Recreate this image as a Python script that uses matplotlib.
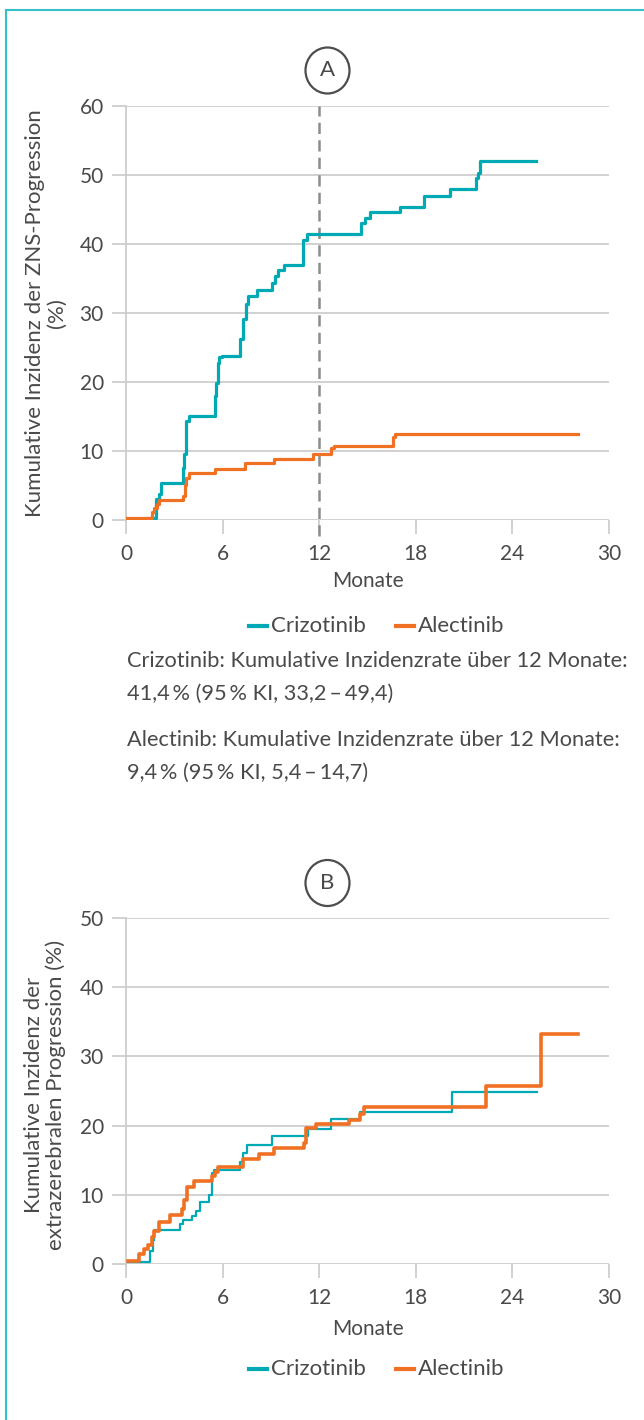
import matplotlib
matplotlib.use('Agg')
import matplotlib.pyplot as plt
from matplotlib.lines import Line2D
from matplotlib.patches import Ellipse

plt.rcParams['font.family'] = ['Lato', 'DejaVu Sans']

# Panel A: ZNS-Progression
a_criz_t = [1.31, 1.89, 2.03, 2.18, 3.55, 3.63, 3.71, 3.9, 5.5, 5.6, 5.7, 5.8, 5.98,
            7.07, 7.28, 7.47, 7.59, 8.15, 9.09, 9.25, 9.42, 9.81, 11.0, 11.22,
            14.62, 14.87, 15.18, 17.02, 18.5, 20.1, 21.73, 21.86, 21.96, 25.48]
a_criz_v = [0.35, 3.1, 3.7, 5.3, 7.6, 9.5, 14.4, 15.0, 17.9, 19.8, 22.8, 23.6, 23.8,
            26.2, 29.1, 31.3, 32.4, 33.4, 34.4, 35.3, 36.3, 37.0, 40.6, 41.4,
            43.0, 43.7, 44.6, 45.3, 46.9, 48.0, 49.5, 50.3, 52.1, 52.1]
a_alec_t = [0, 1.62, 1.75, 1.9, 2.05, 3.55, 3.65, 3.73, 3.9, 5.5, 7.37, 9.19,
            11.59, 12.76, 12.92, 16.61, 16.71, 28.05]
a_alec_v = [0.35, 1.1, 1.8, 2.3, 2.9, 3.5, 5.0, 6.1, 6.8, 7.4, 8.2, 8.8,
            9.6, 10.4, 10.75, 12.0, 12.5, 12.5]

# Panel B: extrazerebrale Progression
b_criz_t = [0.1, 1.49, 1.66, 1.76, 3.35, 3.52, 4.08, 4.35, 4.6, 5.17, 5.34, 5.48,
            7.1, 7.24, 7.49, 9.04, 11.28, 12.76, 14.56, 20.26, 25.52]
b_criz_v = [0.3, 1.9, 3.4, 4.9, 5.8, 6.4, 7.0, 7.7, 8.9, 10.0, 13.1, 13.6,
            14.8, 16.0, 17.2, 18.5, 19.5, 20.9, 22.0, 24.9, 24.9]
b_alec_t = [0.1, 0.83, 1.14, 1.34, 1.59, 1.76, 2.07, 2.75, 3.48, 3.62, 3.79, 4.24,
            5.34, 5.55, 5.73, 7.24, 8.28, 9.21, 11.03, 11.21, 11.79, 13.86, 14.55,
            14.8, 22.35, 25.79, 28.09]
b_alec_v = [0.4, 1.4, 2.2, 2.8, 3.9, 4.8, 6.1, 7.1, 8.0, 9.3, 11.1, 12.0,
            12.7, 13.3, 14.0, 15.2, 15.9, 16.8, 17.5, 19.6, 20.3, 20.8, 21.7,
            22.7, 25.75, 33.25, 33.25]

x_ticks = [0, 6, 12, 18, 24, 30]
a_yticks = [0, 10, 20, 30, 40, 50, 60]
b_yticks = [0, 10, 20, 30, 40, 50]

TEAL = '#00aab5'
ORANGE = '#f07124'
GRID = '#cacaca'
TXT = '#4a4a4a'
W, H = 644, 1420


def fx(x):
    return x / W


def fy(y):
    return 1 - y / H


fig = plt.figure(figsize=(W / 100, H / 100), dpi=100)


def make_axes(top, bottom, yticks, xlabelpad):
    ax = fig.add_axes([fx(126), fy(bottom), fx(609) - fx(126), (bottom - top) / H])
    ax.set_xlim(0, 30)
    ax.set_ylim(0, yticks[-1])
    ax.set_xticks(x_ticks)
    ax.set_yticks(yticks)
    for s in ['top', 'right', 'bottom']:
        ax.spines[s].set_visible(False)
    ax.spines['left'].set_color(GRID)
    ax.spines['left'].set_linewidth(1.2)
    ax.grid(axis='y', color=GRID, lw=1.2)
    ax.set_axisbelow(True)
    ax.tick_params(axis='both', length=10, width=1.2, color=GRID,
                   labelsize=15, labelcolor=TXT)
    ax.tick_params(axis='x', pad=7)
    ax.tick_params(axis='y', pad=6)
    ax.set_xlabel('Monate', fontsize=15, color=TXT, labelpad=xlabelpad)
    return ax


def legend_row(y):
    fig.add_artist(Line2D([fx(249), fx(267)], [fy(y), fy(y)], color=TEAL, lw=3))
    fig.text(fx(271), fy(y), 'Crizotinib', fontsize=16, color=TXT, va='center')
    fig.add_artist(Line2D([fx(396), fx(414)], [fy(y), fy(y)], color=ORANGE, lw=3))
    fig.text(fx(418), fy(y), 'Alectinib', fontsize=16, color=TXT, va='center')


def circle_label(cx, cy, letter):
    fig.add_artist(Ellipse((fx(cx), fy(cy)), 44 / W, 46 / H, fill=False,
                           ec='#4d4d4d', lw=1.6))
    fig.text(fx(cx), fy(cy), letter, fontsize=16, color=TXT, ha='center', va='center')


# Panel A
axA = make_axes(106, 520, a_yticks, 5)
axA.step(a_criz_t, a_criz_v, where='post', color=TEAL, lw=2.3, zorder=3)
axA.step(a_alec_t, a_alec_v, where='post', color=ORANGE, lw=2.3, zorder=3)
axA.plot([12, 12], [-2.3, 60], color='#8c8c8c', lw=1.8, dashes=(4.5, 2.5), clip_on=False, zorder=2)
fig.text(fx(46), fy(313), 'Kumulative Inzidenz der ZNS-Progression\n(%)', rotation=90,
         ha='center', va='center', multialignment='center', fontsize=16, color=TXT,
         linespacing=1.1)
circle_label(327.5, 70.5, 'A')
legend_row(626)

notes = [
    ('Crizotinib: Kumulative Inzidenzrate über 12 Monate:', 661),
    ('41,4\u2009% (95\u2009% KI, 33,2\u2009–\u200949,4)', 694),
    ('Alectinib: Kumulative Inzidenzrate über 12 Monate:', 740),
    ('9,4\u2009% (95\u2009% KI, 5,4\u2009–\u200914,7)', 773),
]
for s, y in notes:
    fig.text(fx(127), fy(y), s, fontsize=15.7, color=TXT, va='center')

# Panel B
axB = make_axes(918, 1264, b_yticks, 8.5)
axB.step(b_criz_t, b_criz_v, where='post', color=TEAL, lw=1.6, zorder=3)
axB.step(b_alec_t, b_alec_v, where='post', color=ORANGE, lw=2.6, zorder=4)
fig.text(fx(45), fy(1095), 'Kumulative Inzidenz der\nextrazerebralen Progression (%)',
         rotation=90, ha='center', va='center', multialignment='center', fontsize=16,
         color=TXT, linespacing=1.1)
circle_label(327.5, 883, 'B')
legend_row(1369)

# frame
fig.add_artist(Line2D([fx(6), 1], [fy(10), fy(10)], color='#35c0c8', lw=1.5))
fig.add_artist(Line2D([fx(6), fx(6)], [fy(10), 0], color='#35c0c8', lw=1.5))

fig.savefig('out.png', dpi=100)
